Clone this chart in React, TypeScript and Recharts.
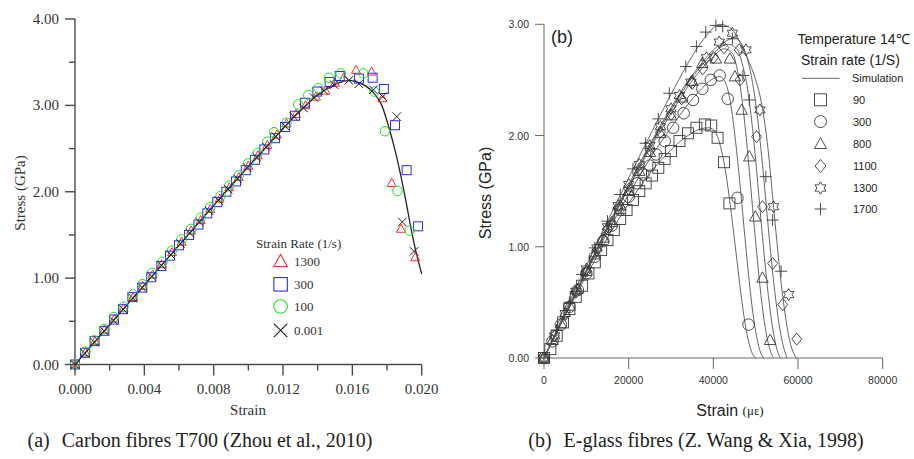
import React from "react";
import { ComposedChart, Scatter, Line, XAxis, YAxis } from "recharts";

type Pt = [number, number];

// (a) Carbon fibres T700: [strain, stress GPa]
const carbonRate1300: Pt[] = [
  [0, 0], [0.0006, 0.14], [0.00115, 0.27], [0.0017, 0.4], [0.00228, 0.53], [0.0028, 0.65], [0.00335, 0.78],
  [0.0039, 0.91], [0.00448, 1.04], [0.005, 1.16], [0.0056, 1.3], [0.00615, 1.42], [0.0067, 1.55], [0.00725, 1.67],
  [0.0078, 1.8], [0.00835, 1.92], [0.0089, 2.05], [0.00945, 2.17], [0.01, 2.3], [0.01055, 2.42], [0.0111, 2.54],
  [0.01165, 2.66], [0.0122, 2.79], [0.01275, 2.9], [0.0133, 3.0], [0.0139, 3.1], [0.01445, 3.17], [0.015, 3.26],
  [0.0155, 3.32], [0.01621, 3.41], [0.01711, 3.39], [0.01773, 3.08], [0.01827, 2.1], [0.01881, 1.57], [0.01963, 1.24],
];
const carbonRate300: Pt[] = [
  [0, 0], [0.00058, 0.135], [0.00113, 0.27], [0.00169, 0.39], [0.00225, 0.52], [0.00277, 0.64], [0.00331, 0.78],
  [0.00388, 0.89], [0.0044, 1.01], [0.00498, 1.14], [0.00548, 1.26], [0.006, 1.38], [0.00658, 1.5], [0.00712, 1.62],
  [0.00763, 1.75], [0.00821, 1.88], [0.00873, 2.0], [0.00929, 2.12], [0.00985, 2.25], [0.01038, 2.37], [0.01092, 2.49],
  [0.01154, 2.62], [0.01212, 2.75], [0.01269, 2.88], [0.01327, 3.03], [0.01398, 3.16], [0.01469, 3.27], [0.01527, 3.34],
  [0.01638, 3.31], [0.01717, 3.32], [0.01782, 3.19], [0.01846, 2.77], [0.01913, 2.25], [0.01979, 1.6],
];
const carbonRate100: Pt[] = [
  [0, 0], [0.0006, 0.15], [0.00112, 0.28], [0.0017, 0.41], [0.00225, 0.55], [0.0028, 0.67], [0.00335, 0.81],
  [0.0039, 0.93], [0.00445, 1.06], [0.00505, 1.19], [0.0056, 1.32], [0.00615, 1.45], [0.0067, 1.57], [0.00725, 1.7],
  [0.0078, 1.82], [0.0084, 1.95], [0.0089, 2.07], [0.00945, 2.19], [0.01, 2.33], [0.01055, 2.45], [0.0111, 2.58],
  [0.01148, 2.69], [0.0122, 2.8], [0.01288, 3.01], [0.01346, 3.12], [0.01404, 3.2], [0.01465, 3.32], [0.01533, 3.37],
  [0.01663, 3.37], [0.01727, 3.16], [0.01788, 2.7], [0.0186, 2.01], [0.0193, 1.55],
];
const carbonRate0001: Pt[] = [
  [0, 0], [0.00057, 0.13], [0.00112, 0.26], [0.00168, 0.39], [0.00223, 0.51], [0.00278, 0.64], [0.00333, 0.77],
  [0.00388, 0.89], [0.00443, 1.02], [0.00498, 1.15], [0.00553, 1.27], [0.00608, 1.4], [0.00663, 1.52], [0.00718, 1.65],
  [0.00773, 1.78], [0.00828, 1.9], [0.00883, 2.03], [0.00938, 2.15], [0.00993, 2.28], [0.01048, 2.4], [0.01103, 2.52],
  [0.01158, 2.64], [0.01213, 2.76], [0.01263, 2.87], [0.01318, 2.97], [0.01379, 3.09], [0.01437, 3.17], [0.01494, 3.24],
  [0.0158, 3.29], [0.01638, 3.25], [0.01721, 3.18], [0.01775, 3.1], [0.01856, 2.87], [0.01888, 1.65], [0.01956, 1.31],
];
const carbonFit: Pt[] = [
  [0, 0], [0.001, 0.23], [0.002, 0.46], [0.003, 0.69], [0.004, 0.92], [0.005, 1.15], [0.006, 1.38], [0.007, 1.61],
  [0.008, 1.84], [0.009, 2.07], [0.01, 2.29], [0.011, 2.51], [0.012, 2.73], [0.013, 2.94], [0.014, 3.12], [0.015, 3.24],
  [0.0158, 3.29], [0.0163, 3.27], [0.0168, 3.22], [0.0172, 3.15], [0.0177, 3.0], [0.0181, 2.75], [0.0185, 2.45],
  [0.0188, 2.18], [0.0191, 1.88], [0.0194, 1.56], [0.0197, 1.28], [0.02, 1.05],
];
const carbonStrainTicks = [0, 0.002, 0.004, 0.006, 0.008, 0.01, 0.012, 0.014, 0.016, 0.018, 0.02];
const carbonStressTicks = [0, 0.5, 1, 1.5, 2, 2.5, 3, 3.5, 4];
const carbonLegend = ["1300", "300", "100", "0.001"];

// (b) E-glass fibres: [strain (microstrain), stress GPa]
const glassRate90: Pt[] = [
  [0, 0], [1500, 0.08], [3000, 0.2], [4500, 0.32], [6000, 0.44], [7500, 0.55], [9000, 0.65], [10500, 0.76],
  [12000, 0.86], [13500, 0.97], [15000, 1.06], [16500, 1.15], [18000, 1.25], [19500, 1.33], [21000, 1.42],
  [22500, 1.5], [24000, 1.57], [25500, 1.64], [27000, 1.71], [28500, 1.79], [30000, 1.86], [32000, 1.95],
  [34000, 2.02], [36000, 2.07], [38000, 2.1], [39500, 2.09], [41000, 1.98], [42500, 1.76], [43800, 1.39],
];
const glassRate300: Pt[] = [
  [0, 0], [2000, 0.15], [4000, 0.3], [6000, 0.46], [8000, 0.61], [10000, 0.76], [12000, 0.91], [14000, 1.05],
  [16000, 1.19], [18000, 1.33], [20000, 1.45], [22000, 1.57], [23500, 1.65], [25000, 1.73], [26500, 1.83],
  [28500, 1.95], [30500, 2.07], [33000, 2.2], [35200, 2.32], [37400, 2.42], [39400, 2.5], [41500, 2.54],
  [43400, 2.33], [45700, 1.44], [48300, 0.3],
];
const glassRate800: Pt[] = [
  [0, 0], [2000, 0.16], [4000, 0.31], [6000, 0.47], [8000, 0.62], [10000, 0.78], [12000, 0.93], [14000, 1.08],
  [16000, 1.22], [18000, 1.37], [20000, 1.5], [22500, 1.68], [25000, 1.85], [27500, 2.02], [30000, 2.18],
  [32500, 2.34], [35000, 2.49], [37400, 2.65], [40600, 2.69], [43900, 2.69], [45100, 2.53], [46700, 2.23],
  [48500, 1.81], [49900, 1.27], [51600, 0.72], [53400, 0.16],
];
const glassRate1100: Pt[] = [
  [0, 0], [2500, 0.2], [5000, 0.39], [7500, 0.59], [10000, 0.78], [12500, 0.97], [15000, 1.16], [17500, 1.34],
  [20000, 1.52], [22500, 1.7], [25000, 1.87], [27500, 2.03], [30000, 2.19], [32500, 2.33], [35000, 2.47],
  [37500, 2.6], [40000, 2.7], [42500, 2.79], [46100, 2.77], [46300, 2.5], [50200, 1.99], [51600, 1.36],
  [54000, 0.85], [56400, 0.48], [59700, 0.17],
];
const glassRate1300: Pt[] = [
  [0, 0], [2500, 0.2], [5000, 0.4], [7500, 0.6], [10000, 0.8], [12500, 0.99], [15000, 1.18], [17500, 1.37],
  [20000, 1.56], [22500, 1.74], [25000, 1.91], [27500, 2.08], [30000, 2.24], [32000, 2.36], [34700, 2.48],
  [38400, 2.7], [41400, 2.84], [44500, 2.92], [47700, 2.77], [51000, 2.23], [54200, 1.36], [57800, 0.57],
];
const glassRate1700: Pt[] = [
  [0, 0], [3000, 0.25], [6000, 0.5], [9000, 0.75], [12000, 0.99], [15000, 1.23], [18000, 1.47], [21000, 1.7],
  [24000, 1.93], [27000, 2.15], [29600, 2.38], [33500, 2.62], [36000, 2.8], [38200, 2.93], [40600, 2.99],
  [42200, 2.98], [44500, 2.87], [47000, 2.54], [48500, 2.32], [52400, 1.63], [54000, 1.24], [56000, 0.78],
];
const glassSim90: Pt[] = [
  [0, 0], [5000, 0.38], [10000, 0.74], [15000, 1.08], [20000, 1.39], [25000, 1.66], [30000, 1.87], [34000, 2.0],
  [37000, 2.06], [39000, 2.07], [40500, 2.03], [41500, 1.93], [42500, 1.76], [43500, 1.52], [44500, 1.22],
  [45500, 0.9], [46500, 0.58], [47500, 0.31], [48500, 0.12], [49500, 0.02], [50000, 0],
];
const glassSim300: Pt[] = [
  [0, 0], [5000, 0.39], [10000, 0.77], [15000, 1.13], [20000, 1.47], [25000, 1.79], [30000, 2.07], [34000, 2.28],
  [37000, 2.41], [39500, 2.5], [41500, 2.53], [42500, 2.5], [43500, 2.4], [44500, 2.18], [45500, 1.86],
  [46500, 1.48], [47500, 1.07], [48500, 0.68], [49500, 0.36], [50500, 0.14], [51500, 0.02], [52000, 0],
];
const glassSim800: Pt[] = [
  [0, 0], [5000, 0.39], [10000, 0.78], [15000, 1.16], [20000, 1.53], [25000, 1.88], [30000, 2.2], [34000, 2.44],
  [37000, 2.59], [40000, 2.71], [42500, 2.78], [44500, 2.74], [45500, 2.62], [46500, 2.4], [47500, 2.08],
  [48500, 1.68], [49500, 1.25], [50500, 0.84], [51500, 0.48], [52500, 0.22], [53500, 0.06], [54200, 0],
];
const glassSim1100: Pt[] = [
  [0, 0], [5000, 0.39], [10000, 0.78], [15000, 1.17], [20000, 1.54], [25000, 1.9], [30000, 2.23], [34000, 2.47],
  [37000, 2.62], [40000, 2.74], [43500, 2.82], [45500, 2.78], [47000, 2.62], [48000, 2.44], [49000, 2.15],
  [50000, 1.78], [51000, 1.35], [52000, 0.93], [53000, 0.56], [54000, 0.27], [55000, 0.08], [55800, 0],
];
const glassSim1300: Pt[] = [
  [0, 0], [5000, 0.4], [10000, 0.79], [15000, 1.18], [20000, 1.56], [25000, 1.92], [30000, 2.25], [34000, 2.49],
  [37000, 2.64], [40000, 2.77], [43000, 2.85], [45000, 2.88], [47000, 2.8], [48500, 2.62], [49500, 2.42],
  [50500, 2.14], [51500, 1.78], [52500, 1.37], [53500, 0.96], [54500, 0.6], [55500, 0.31], [56500, 0.11], [57400, 0],
];
const glassSim1700: Pt[] = [
  [0, 0], [5000, 0.42], [10000, 0.83], [15000, 1.23], [20000, 1.62], [25000, 2.0], [30000, 2.37], [34000, 2.65],
  [37000, 2.83], [39500, 2.95], [41500, 3.0], [43500, 2.98], [46000, 2.86], [48000, 2.7], [50000, 2.5],
  [51000, 2.36], [52000, 2.15], [53000, 1.85], [54000, 1.45], [55000, 1.05], [56000, 0.68], [57000, 0.38],
  [58000, 0.16], [59000, 0.04], [59600, 0],
];
const glassStrainTicks = [0, 20000, 40000, 60000, 80000];
const glassStressTicks = [0, 1, 2, 3];
const glassLegend = ["90", "300", "800", "1100", "1300", "1700"];

const toPts = (arr: Pt[]) => arr.map(([x, y]) => ({ x, y }));

const SERIF = "'Liberation Serif', 'Times New Roman', serif";
const SANS = "'Liberation Sans', Arial, sans-serif";
const RED = "#ff2b2b";
const BLUE = "#2b2bff";
const GREEN = "#1fe01f";
const BLACK = "#222";
const GREY = "#3a3a3a";

type Kind = "triangle" | "square" | "circle" | "x" | "diamond" | "star" | "plus";

function Mark({ kind, cx, cy, s, color, w }: { kind: Kind; cx: number; cy: number; s: number; color: string; w: number }) {
  const h = s / 2;
  const common = { fill: "none", stroke: color, strokeWidth: w };
  if (kind === "triangle")
    return <polygon {...common} points={`${cx},${cy - h * 1.05} ${cx - h},${cy + h * 0.75} ${cx + h},${cy + h * 0.75}`} />;
  if (kind === "square") return <rect {...common} x={cx - h} y={cy - h} width={s} height={s} />;
  if (kind === "circle") return <circle {...common} cx={cx} cy={cy} r={h} />;
  if (kind === "diamond")
    return <polygon {...common} points={`${cx},${cy - h * 1.1} ${cx + h * 0.9},${cy} ${cx},${cy + h * 1.1} ${cx - h * 0.9},${cy}`} />;
  if (kind === "star") {
    const pts: string[] = [];
    for (let i = 0; i < 12; i++) {
      const r = i % 2 === 0 ? h * 1.05 : h * 0.6;
      const a = (-90 + i * 30) * (Math.PI / 180);
      pts.push(`${cx + r * Math.cos(a)},${cy + r * Math.sin(a)}`);
    }
    return <polygon {...common} points={pts.join(" ")} />;
  }
  if (kind === "plus")
    return (
      <g {...common}>
        <line x1={cx - h} x2={cx + h} y1={cy} y2={cy} />
        <line x1={cx} x2={cx} y1={cy - h} y2={cy + h} />
      </g>
    );
  return (
    <g {...common}>
      <line x1={cx - h} x2={cx + h} y1={cy - h} y2={cy + h} />
      <line x1={cx - h} x2={cx + h} y1={cy + h} y2={cy - h} />
    </g>
  );
}

const shapeOf = (kind: Kind, s: number, color: string, w: number) => (p: any) =>
  <Mark kind={kind} cx={p.cx} cy={p.cy} s={s} color={color} w={w} />;

const CARBON_AXIS = "#4a4a4a";

function CarbonXTick(props: any) {
  const { x, y, payload } = props;
  const v: number = payload.value;
  const major = Math.round(v * 1000) % 4 === 0;
  return (
    <g>
      <line x1={x} x2={x} y1={y} y2={y + (major ? 11 : 6)} stroke={CARBON_AXIS} strokeWidth={1.4} />
      {major && (
        <text x={x} y={y + 24} textAnchor="middle" dominantBaseline="central" fontFamily={SERIF} fontSize={15} fill="#333">
          {v.toFixed(3)}
        </text>
      )}
    </g>
  );
}

function CarbonYTick(props: any) {
  const { x, y, payload } = props;
  const v: number = payload.value;
  const major = Number.isInteger(v);
  return (
    <g>
      <line x1={x - (major ? 10 : 6)} x2={x} y1={y} y2={y} stroke={CARBON_AXIS} strokeWidth={1.4} />
      {major && (
        <text x={x - 16} y={y} textAnchor="end" dominantBaseline="central" fontFamily={SERIF} fontSize={15} fill="#333">
          {v.toFixed(2)}
        </text>
      )}
    </g>
  );
}

function GlassXTick(props: any) {
  const { x, y, payload } = props;
  return (
    <g>
      <line x1={x} x2={x} y1={y} y2={y + 11} stroke="#666" strokeWidth={1} />
      <text x={x} y={y + 22} textAnchor="middle" dominantBaseline="central" fontFamily={SANS} fontSize={10.5} fill="#333">
        {String(payload.value)}
      </text>
    </g>
  );
}

function GlassYTick(props: any) {
  const { x, y, payload } = props;
  return (
    <g>
      <line x1={x - 9} x2={x} y1={y} y2={y} stroke="#666" strokeWidth={1} />
      <text x={x - 15} y={y} textAnchor="end" dominantBaseline="central" fontFamily={SANS} fontSize={10.5} fill="#333">
        {payload.value.toFixed(2)}
      </text>
    </g>
  );
}

function CarbonChart() {
  return (
    <ComposedChart width={457} height={420} margin={{ top: 19, right: 35.3, bottom: 15.5, left: 0 }}>
      <XAxis
        type="number" dataKey="x" domain={[0, 0.02]} ticks={carbonStrainTicks} interval={0}
        tickSize={0} tickMargin={0} tickLine={false} height={40}
        axisLine={{ stroke: CARBON_AXIS, strokeWidth: 1.4 }} tick={<CarbonXTick />}
      />
      <YAxis
        type="number" dataKey="y" domain={[0, 4]} ticks={carbonStressTicks} interval={0}
        tickSize={0} tickMargin={0} tickLine={false} width={75}
        axisLine={{ stroke: CARBON_AXIS, strokeWidth: 1.4 }} tick={<CarbonYTick />}
      />
      <Scatter data={toPts(carbonRate1300)} shape={shapeOf("triangle", 9, RED, 1)} isAnimationActive={false} />
      <Scatter data={toPts(carbonRate300)} shape={shapeOf("square", 9, BLUE, 1)} isAnimationActive={false} />
      <Scatter data={toPts(carbonRate100)} shape={shapeOf("circle", 9.5, GREEN, 1)} isAnimationActive={false} />
      <Scatter data={toPts(carbonRate0001)} shape={shapeOf("x", 8.5, BLACK, 1)} isAnimationActive={false} />
      <Line data={toPts(carbonFit)} dataKey="y" type="monotone" stroke="#222" strokeWidth={1.3} dot={false} isAnimationActive={false} />
    </ComposedChart>
  );
}

function GlassChart() {
  const sims = [glassSim90, glassSim300, glassSim800, glassSim1100, glassSim1300, glassSim1700];
  return (
    <ComposedChart width={457} height={420} margin={{ top: 24.3, right: 31.3, bottom: 22, left: 0 }}>
      <XAxis
        type="number" dataKey="x" domain={[0, 80000]} ticks={glassStrainTicks} interval={0}
        tickSize={0} tickMargin={0} tickLine={false} height={40}
        axisLine={{ stroke: "#666", strokeWidth: 1 }} tick={<GlassXTick />}
      />
      <YAxis
        type="number" dataKey="y" domain={[0, 3]} ticks={glassStressTicks} interval={0}
        tickSize={0} tickMargin={0} tickLine={false} width={87}
        axisLine={{ stroke: "#666", strokeWidth: 1 }} tick={<GlassYTick />}
      />
      {sims.map((s, i) => (
        <Line key={i} data={toPts(s)} dataKey="y" type="monotone" stroke="#555" strokeWidth={0.9} dot={false} isAnimationActive={false} />
      ))}
      <Scatter data={toPts(glassRate90)} shape={shapeOf("square", 11, GREY, 0.9)} isAnimationActive={false} />
      <Scatter data={toPts(glassRate300)} shape={shapeOf("circle", 11.5, GREY, 0.9)} isAnimationActive={false} />
      <Scatter data={toPts(glassRate800)} shape={shapeOf("triangle", 11.5, GREY, 0.9)} isAnimationActive={false} />
      <Scatter data={toPts(glassRate1100)} shape={shapeOf("diamond", 11, GREY, 0.9)} isAnimationActive={false} />
      <Scatter data={toPts(glassRate1300)} shape={shapeOf("star", 11.5, GREY, 0.9)} isAnimationActive={false} />
      <Scatter data={toPts(glassRate1700)} shape={shapeOf("plus", 12, GREY, 0.9)} isAnimationActive={false} />
    </ComposedChart>
  );
}

function Overlay() {
  const carbonKinds: [Kind, string, number][] = [["triangle", RED, 261.4], ["square", BLUE, 284.3], ["circle", GREEN, 306.5], ["x", BLACK, 330.3]];
  const glassKinds: Kind[] = ["square", "circle", "triangle", "diamond", "star", "plus"];
  const glassRows = [99.8, 121.6, 144, 166, 188, 209];
  return (
    <svg width={914} height={459} style={{ position: "absolute", left: 0, top: 0, pointerEvents: "none" }}>
      {/* (a) labels */}
      <text x={248} y={410} textAnchor="middle" dominantBaseline="central" fontFamily={SERIF} fontSize={15} fill="#333">Strain</text>
      <text x={20} y={193} transform="rotate(-90 20 193)" textAnchor="middle" dominantBaseline="central" fontFamily={SERIF} fontSize={15} fill="#333">Stress (GPa)</text>
      <text x={256} y={243.6} dominantBaseline="central" fontFamily={SERIF} fontSize={13} fill="#333">Strain Rate (1/s)</text>
      {carbonKinds.map(([k, c, yy], i) => (
        <g key={k}>
          <Mark kind={k} cx={280.6} cy={yy} s={13.5} color={c} w={1.1} />
          <text x={294} y={yy} dominantBaseline="central" fontFamily={SERIF} fontSize={13} fill="#333">{carbonLegend[i]}</text>
        </g>
      ))}

      {/* (b) labels */}
      <text x={551} y={37} dominantBaseline="central" fontFamily={SANS} fontSize={18} fill="#222">(b)</text>
      <text x={485} y={193} transform="rotate(-90 485 193)" textAnchor="middle" dominantBaseline="central" fontFamily={SANS} fontSize={16} fill="#222">Stress (GPa)</text>
      <text x={730} y={410} textAnchor="middle" dominantBaseline="central" fontFamily={SANS} fontSize={16} fill="#222">
        Strain <tspan fontFamily={SERIF} fontSize={13}>(με)</tspan>
      </text>
      <text x={797.5} y={38.6} dominantBaseline="central" fontFamily={SANS} fontSize={14} fill="#222">Temperature 14℃</text>
      <text x={801} y={59.8} dominantBaseline="central" fontFamily={SANS} fontSize={14} fill="#222">Strain rate (1/S)</text>
      <line x1={802} x2={839.6} y1={78.3} y2={78.3} stroke="#555" strokeWidth={0.9} />
      <text x={852} y={78} dominantBaseline="central" fontFamily={SANS} fontSize={11} fill="#222">Simulation</text>
      {glassKinds.map((k, i) => (
        <g key={k}>
          <Mark kind={k} cx={820.5} cy={glassRows[i]} s={12} color={GREY} w={0.9} />
          <text x={853} y={glassRows[i]} dominantBaseline="central" fontFamily={SANS} fontSize={11} fill="#222">{glassLegend[i]}</text>
        </g>
      ))}

      {/* captions */}
      <text x={200} y={440} textAnchor="middle" dominantBaseline="central" fontFamily={SERIF} fontSize={20} fill="#222">
        (a)<tspan dx={12}>Carbon fibres T700 (Zhou et al., 2010)</tspan>
      </text>
      <text x={696} y={440} textAnchor="middle" dominantBaseline="central" fontFamily={SERIF} fontSize={20} fill="#222">
        (b)<tspan dx={12}>E-glass fibres (Z. Wang &amp; Xia, 1998)</tspan>
      </text>
    </svg>
  );
}

export default function App() {
  return (
    <div style={{ position: "absolute", left: 0, top: 0, width: 914, height: 459, background: "#fff", overflow: "hidden" }}>
      <div style={{ position: "absolute", left: 0, top: 0 }}>
        <CarbonChart />
      </div>
      <div style={{ position: "absolute", left: 457, top: 0 }}>
        <GlassChart />
      </div>
      <Overlay />
    </div>
  );
}
